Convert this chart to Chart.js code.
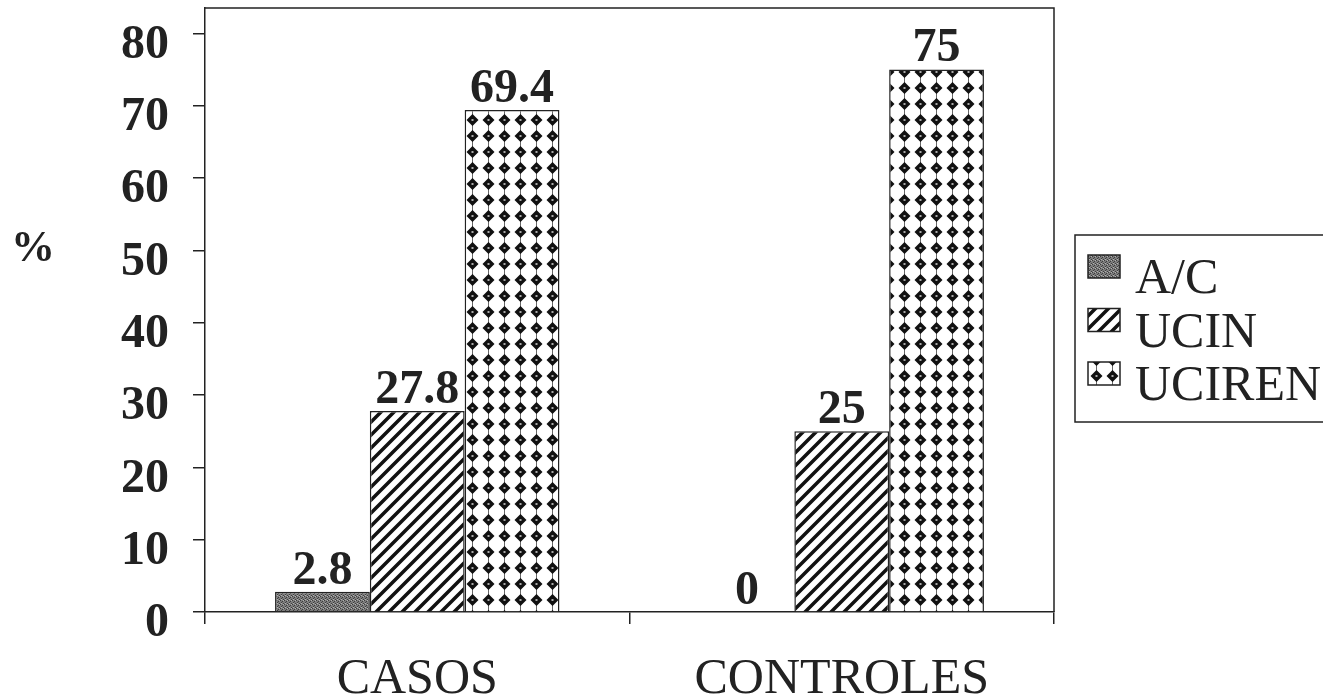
<!DOCTYPE html>
<html>
<head>
<meta charset="utf-8">
<script src="https://cdn.jsdelivr.net/npm/chart.js@4/dist/chart.umd.min.js"></script>
<style>
  html, body { margin: 0; padding: 0; background: #fff; }
  #wrap { width: 1323px; height: 696px; }
</style>
</head>
<body>
<div id="wrap"><canvas id="chart"></canvas></div>
<script>
// datos
const categories = ['CASOS', 'CONTROLES'];
const seriesNames = ['A/C', 'UCIN', 'UCIREN'];
const acValues = [2.8, 0];
const ucinValues = [27.8, 25];
const ucirenValues = [69.4, 75];
const yTicks = [0, 10, 20, 30, 40, 50, 60, 70, 80];

const FONT = '"Liberation Serif", "Times New Roman", serif';
const INK = '#222';

// tramas de relleno
function makeTile(size, draw) {
    const c = document.createElement('canvas');
    c.width = size;
    c.height = size;
    draw(c.getContext('2d'), size);
    return c.getContext('2d').createPattern(c, 'repeat');
}

const grayPattern = makeTile(4, (g, s) => {
    g.fillStyle = '#7c7c7c';
    g.fillRect(0, 0, s, s);
    g.fillStyle = '#3e3e3e';
    g.fillRect(0, 0, 1, 1);
    g.fillRect(2, 1, 1, 1);
    g.fillRect(1, 2, 1, 1);
    g.fillRect(3, 3, 1, 1);
    g.fillStyle = '#b0b0b0';
    g.fillRect(3, 0, 1, 1);
    g.fillRect(1, 3, 1, 1);
});

const hatchPattern = makeTile(13, (g, s) => {
    g.fillStyle = '#fff';
    g.fillRect(0, 0, s, s);
    g.strokeStyle = '#111';
    g.lineWidth = 3.5;
    g.beginPath();
    g.moveTo(0, s); g.lineTo(s, 0);
    g.moveTo(-s / 2, s / 2); g.lineTo(s / 2, -s / 2);
    g.moveTo(s / 2, s * 1.5); g.lineTo(s * 1.5, s / 2);
    g.stroke();
});

const diamondPattern = makeTile(16, (g, s) => {
    g.fillStyle = '#fff';
    g.fillRect(0, 0, s, s);
    g.strokeStyle = '#666';
    g.lineWidth = 1;
    g.beginPath();
    g.moveTo(8.5, 0); g.lineTo(8.5, s);
    g.stroke();
    g.fillStyle = '#111';
    g.beginPath();
    g.moveTo(8.5, 2); g.lineTo(14.5, 8); g.lineTo(8.5, 14); g.lineTo(2.5, 8);
    g.closePath();
    g.fill();
    g.fillStyle = '#aaa';
    g.fillRect(7.5, 7, 2, 2);
});

// etiquetas de valor encima de cada barra
const valueLabels = {
    id: 'valueLabels',
    afterDatasetsDraw(chart) {
        const ctx = chart.ctx;
        ctx.save();
        ctx.font = 'bold 48px ' + FONT;
        ctx.fillStyle = INK;
        ctx.textAlign = 'center';
        ctx.textBaseline = 'alphabetic';
        chart.data.datasets.forEach((ds, i) => {
            chart.getDatasetMeta(i).data.forEach((bar, j) => {
                ctx.fillText(String(ds.data[j]), bar.x, bar.y - 8);
            });
        });
        ctx.restore();
    }
};

// marco, "%" y leyenda con recuadro
const decorations = {
    id: 'decorations',
    afterDraw(chart) {
        const ctx = chart.ctx;
        const a = chart.chartArea;
        ctx.save();
        ctx.strokeStyle = INK;
        ctx.lineWidth = 1.5;
        ctx.beginPath();
        ctx.moveTo(a.left, a.top);
        ctx.lineTo(a.right, a.top);
        ctx.lineTo(a.right, a.bottom);
        ctx.stroke();

        ctx.fillStyle = INK;
        ctx.font = 'bold 44px ' + FONT;
        ctx.textAlign = 'center';
        ctx.textBaseline = 'middle';
        ctx.fillText('%', 33, 250);

        // leyenda
        const lx = a.right + 21, ly = 235;
        ctx.strokeRect(lx, ly, 300, 187);
        ctx.font = '50px ' + FONT;
        ctx.textAlign = 'left';
        ctx.textBaseline = 'alphabetic';
        chart.data.datasets.forEach((ds, i) => {
            const top = ly + 20 + i * 53.5;
            ctx.fillStyle = ds.backgroundColor;
            ctx.fillRect(lx + 13, top, 32, 23);
            ctx.strokeRect(lx + 13, top, 32, 23);
            ctx.fillStyle = INK;
            ctx.fillText(ds.label, lx + 60, top + 38);
        });
        ctx.restore();
    }
};

new Chart(document.getElementById('chart'), {
    type: 'bar',
    data: {
        labels: categories,
        datasets: [{
            label: seriesNames[0],
            data: acValues,
            backgroundColor: grayPattern
        }, {
            label: seriesNames[1],
            data: ucinValues,
            backgroundColor: hatchPattern
        }, {
            label: seriesNames[2],
            data: ucirenValues,
            backgroundColor: diamondPattern
        }].map(ds => Object.assign(ds, {
            borderColor: INK,
            borderWidth: 1.5,
            categoryPercentage: 0.67,
            barPercentage: 1
        }))
    },
    options: {
        responsive: true,
        maintainAspectRatio: false,
        animation: false,
        layout: { padding: { top: 8, right: 269, left: 0, bottom: 0 } },
        plugins: {
            legend: { display: false },
            tooltip: { enabled: false }
        },
        scales: {
            x: {
                grid: {
                    offset: true,
                    drawOnChartArea: false,
                    tickLength: 12,
                    color: INK,
                    lineWidth: 1.5
                },
                border: { color: INK, width: 1.5 },
                ticks: {
                    color: INK,
                    padding: 26,
                    font: { family: FONT, size: 50 }
                },
                afterFit(s) { s.height = 84; s.paddingLeft = 0; s.paddingRight = 0; }
            },
            y: {
                min: 0,
                max: 83.5,
                afterBuildTicks(s) { s.ticks = yTicks.map(v => ({ value: v })); },
                grid: {
                    drawOnChartArea: false,
                    tickLength: 12,
                    color: INK,
                    lineWidth: 1.5
                },
                border: { color: INK, width: 1.5 },
                ticks: {
                    color: INK,
                    padding: 24,
                    labelOffset: 12,
                    font: { family: FONT, size: 48, weight: 'bold' }
                },
                afterFit(s) { s.width = 205; s.paddingTop = 0; s.paddingBottom = 0; }
            }
        }
    },
    plugins: [valueLabels, decorations]
});
</script>
</body>
</html>
